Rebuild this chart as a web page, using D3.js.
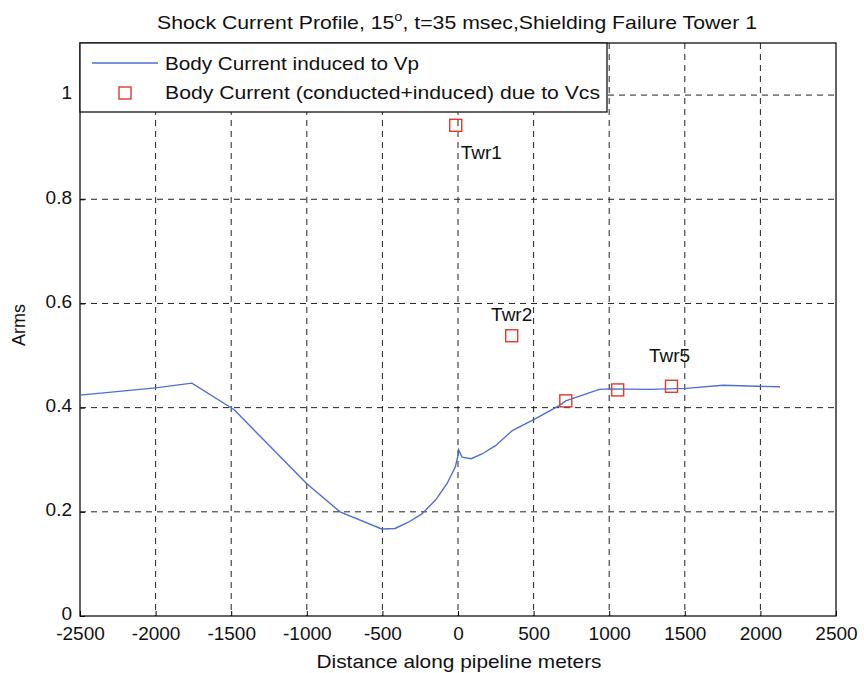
<!DOCTYPE html>
<html>
  <head>
    <meta charset="utf-8">
    <title>Shock Current Profile</title>
    <script src="https://cdn.jsdelivr.net/npm/d3@7/dist/d3.min.js"></script>
    <style>
      body { margin: 0; background: #fff; }
      text { font-family: 'Liberation Sans', Arial, sans-serif; fill: #111; }
    </style>
  </head>
  <body>
    <svg width="864" height="673"></svg>
    <script>
      // body current induced to Vp (line)
      const lineX = [-2500, -2000, -1760, -1480, -1000, -780, -505, -416, -328, -239, -150, -73, -18, 0, 4, 27, 88, 159, 248, 359, 513, 669, 713, 934, 1000, 1266, 1510, 1753, 1974, 2130]
      const lineY = [0.424, 0.438, 0.447, 0.396, 0.254, 0.2, 0.167, 0.168, 0.18, 0.196, 0.222, 0.254, 0.286, 0.308, 0.319, 0.305, 0.302, 0.311, 0.327, 0.356, 0.379, 0.404, 0.413, 0.435, 0.436, 0.435, 0.437, 0.443, 0.441, 0.44]

      // body current (conducted+induced) due to Vcs (squares)
      const towerX = [-15, 355, 713, 1056, 1412]
      const towerY = [0.942, 0.538, 0.413, 0.434, 0.441]
      const towerLabels = ['Twr1', 'Twr2', '', '', 'Twr5']

      const xTicks = [-2500, -2000, -1500, -1000, -500, 0, 500, 1000, 1500, 2000, 2500]
      const yTicks = [0, 0.2, 0.4, 0.6, 0.8, 1]
      const legendLabels = ['Body Current induced to Vp', 'Body Current (conducted+induced) due to Vcs']

      const svg = d3.select('svg')
      const mLeft = 80, mRight = 836, mTop = 43, mBottom = 616

      const x = d3.scaleLinear().domain([-2500, 2500]).range([mLeft, mRight])
      const y = d3.scaleLinear().domain([0, 1.1]).range([mBottom, mTop])

      const lineColor = '#4f6fd0'
      const markColor = '#e03a2c'
      const fs = 19

      // grid
      const grid = svg.append('g')
      grid.selectAll('.gx').data(xTicks.slice(1, -1)).enter().append('line')
        .attr('x1', d => x(d)).attr('x2', d => x(d))
        .attr('y1', mTop).attr('y2', mBottom)
        .attr('stroke', '#222').attr('stroke-dasharray', '6,5')
      grid.selectAll('.gy').data(yTicks.slice(1)).enter().append('line')
        .attr('x1', mLeft).attr('x2', mRight)
        .attr('y1', d => y(d)).attr('y2', d => y(d))
        .attr('stroke', '#222').attr('stroke-dasharray', '6,5')

      // axes
      const xAxis = d3.axisBottom(x).tickValues(xTicks).tickSize(-5).tickPadding(11).tickFormat(d => String(d))
      const yAxis = d3.axisLeft(y).tickValues(yTicks).tickSize(-5).tickPadding(8).tickFormat(d => String(d))

      svg.append('g').attr('transform', `translate(0,${mBottom})`).call(xAxis)
        .call(g => g.select('.domain').remove())
        .selectAll('text').attr('font-size', fs).attr('fill', '#111')
      svg.append('g').attr('transform', `translate(${mLeft},0)`).call(yAxis)
        .call(g => g.select('.domain').remove())
        .selectAll('text').attr('font-size', fs).attr('fill', '#111').attr('dy', '0.2em')

      // box
      svg.append('rect')
        .attr('x', mLeft).attr('y', mTop)
        .attr('width', mRight - mLeft).attr('height', mBottom - mTop)
        .attr('fill', 'none').attr('stroke', '#111').attr('stroke-width', 1.3)

      // line
      const pts = lineX.map((d, i) => [d, lineY[i]])
      svg.append('path')
        .datum(pts)
        .attr('d', d3.line().x(d => x(d[0])).y(d => y(d[1])))
        .attr('fill', 'none').attr('stroke', lineColor).attr('stroke-width', 1.4)

      // squares
      const tw = towerX.map((d, i) => ({ x: d, y: towerY[i], label: towerLabels[i] }))
      svg.selectAll('.sq').data(tw).enter().append('rect')
        .attr('x', d => x(d.x) - 6).attr('y', d => y(d.y) - 6)
        .attr('width', 12).attr('height', 12)
        .attr('fill', 'none').attr('stroke', markColor).attr('stroke-width', 1.4)

      // tower labels
      const offs = [[5, 34, 'start'], [0, -15, 'middle'], [0, 0, 'middle'], [0, 0, 'middle'], [-2, -24, 'middle']]
      svg.selectAll('.lab').data(tw).enter().append('text')
        .attr('x', (d, i) => x(d.x) + offs[i][0])
        .attr('y', (d, i) => y(d.y) + offs[i][1])
        .attr('text-anchor', (d, i) => offs[i][2])
        .attr('font-size', fs)
        .text(d => d.label)

      // legend
      const lg = svg.append('g')
      lg.append('rect').attr('x', mLeft).attr('y', mTop).attr('width', 527).attr('height', 69)
        .attr('fill', '#fff').attr('stroke', '#111').attr('stroke-width', 1.3)
      lg.append('line').attr('x1', 92).attr('x2', 158).attr('y1', 63).attr('y2', 63)
        .attr('stroke', lineColor).attr('stroke-width', 1.4)
      lg.append('rect').attr('x', 119).attr('y', 87).attr('width', 12).attr('height', 12)
        .attr('fill', 'none').attr('stroke', markColor).attr('stroke-width', 1.4)
      lg.selectAll('.lt').data(legendLabels).enter().append('text')
        .attr('x', 165).attr('y', (d, i) => 70 + i * 29)
        .attr('font-size', fs)
        .attr('textLength', (d, i) => [254, 435][i])
        .attr('lengthAdjust', 'spacingAndGlyphs')
        .text(d => d)

      // title
      const title = svg.append('text').attr('x', 457).attr('y', 29)
        .attr('text-anchor', 'middle').attr('font-size', fs)
        .attr('textLength', 600).attr('lengthAdjust', 'spacingAndGlyphs')
      title.append('tspan').text('Shock Current Profile, 15')
      title.append('tspan').attr('dy', -8).attr('font-size', 13).text('o')
      title.append('tspan').attr('dy', 8).text(', t=35 msec,Shielding Failure Tower 1')

      // axis labels
      svg.append('text').attr('x', 459).attr('y', 668).attr('text-anchor', 'middle')
        .attr('font-size', fs).attr('textLength', 285).attr('lengthAdjust', 'spacingAndGlyphs')
        .text('Distance along pipeline meters')
      svg.append('text').attr('transform', 'translate(25,325) rotate(-90)')
        .attr('text-anchor', 'middle').attr('font-size', 18).text('Arms')
    </script>
  </body>
</html>
